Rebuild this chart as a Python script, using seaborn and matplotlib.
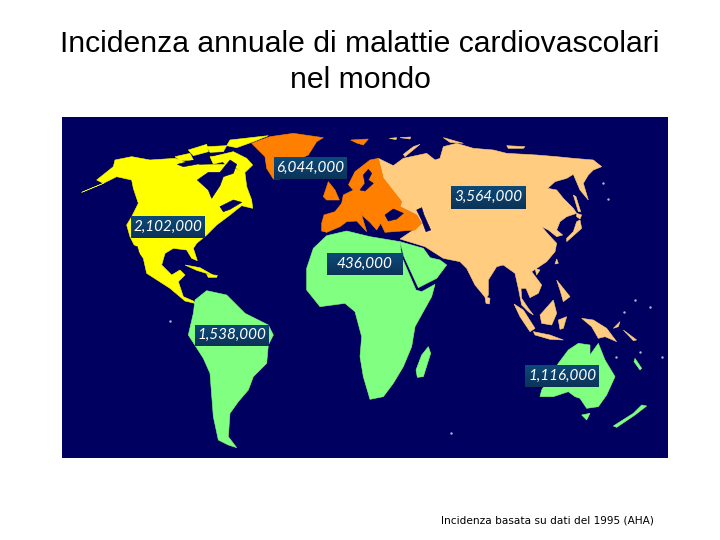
import numpy as np
import pandas as pd
import matplotlib
matplotlib.use("Agg")
import matplotlib.pyplot as plt
from matplotlib.patches import Polygon, Rectangle
import seaborn as sns

# ---- chart values -------------------------------------------------------
TITLE = "Incidenza annuale di malattie cardiovascolari\nnel mondo"
NOTE = "Incidenza basata su dati del 1995 (AHA)"
regions = ["America del Nord", "Europa", "Asia", "Africa e Medio Oriente", "America del Sud", "Oceania"]
cases = [2102000, 6044000, 3564000, 436000, 1538000, 1116000]
label_left = [131, 274, 451, 327, 195, 525]
label_right = [205, 347, 526, 403, 269, 599]
label_top = [216, 157, 186, 253, 325, 365]
label_bottom = [238, 179, 209, 275, 346, 387]

SEA = "#000060"
MAP_BOX = (62, 117, 668, 458)

# Shapes, in 3x-zoom units; top-frame origin (60,115)
north_america = [(65,232),(130,205),(110,195),(160,155),(165,135),(215,125),(270,135),(345,130),(385,145),(420,150),(500,148),(555,175),(560,215),(575,255),(578,280),(545,272),(510,300),(470,330),(440,360),(410,385),(400,400),(412,437),(395,430),(380,405),(340,400),(315,415),(305,450),(335,480),(360,465),(375,480),(355,500),(370,545),(400,558),(405,565),(375,558),(330,520),(260,475),(250,430),(225,395),(210,365),(200,330),(215,305),(235,265),(220,220),(215,195),(170,185),(130,205)]
na_water = [[(412,195),(445,172),(480,172),(510,135),(530,148),(520,175),(490,185),(480,212),(455,250),(445,225)],
            [(222,392),(232,395),(248,452),(238,445)],
            [(480,275),(520,255),(545,262),(510,283),(490,290)],
            [(352,148),(400,136),(410,148),(370,155)]]
na_islands = [[(510,75),(625,62),(580,80),(530,98),(500,92)],[(470,122),(520,110),(560,130),(578,150),(550,177),(530,160),(495,147)],
              [(385,105),(440,88),(445,110),(400,122)],[(345,125),(390,115),(400,135),(360,137)],[(450,125),(490,120),(490,140),(460,147)],
              [(440,95),(500,92),(490,110),(450,112)],
              [(375,450),(420,458),(462,482),(410,466)],[(440,478),(472,481),(470,487),(445,487)]]
greenland = [(575,85),(630,65),(700,55),(790,68),(770,80),(745,120),(700,140),(660,192),(640,192),(620,160),(615,125),(590,100)]
svalbard = [(872,75),(925,72),(910,90),(890,84)]
uk = [[(790,245),(805,200),(825,225),(838,255),(800,255)]]
europe = [(785,325),(792,300),(825,290),(845,265),(850,240),(880,225),(865,210),(885,170),(930,135),(955,130),(970,190),(1025,260),(1020,275),(1070,300),(1085,325),(1065,345),(975,352),(962,325),(950,345),(930,322),(905,300),(920,350),(890,318),(860,320),(840,335),(800,352),(785,348)]
eu_water = [[(975,300),(1000,282),(1030,295),(1010,312),(985,318)],
            [(900,225),(915,205),(910,180),(925,163),(935,175),(925,195),(940,205),(915,228)],
            [(855,228),(875,225),(860,205),(850,215)]]
eurasia = [(955,130),(1000,152),(1030,130),(1100,115),(1125,135),(1140,130),(1150,95),(1190,85),(1240,100),(1300,105),(1340,115),(1430,120),(1490,125),(1540,130),(1600,135),(1625,155),(1600,165),(1585,180),(1570,205),(1585,255),(1560,225),(1540,178),(1520,190),(1485,200),(1463,220),(1490,225),(1510,250),(1540,280),(1550,295),(1520,305),(1500,320),(1490,345),(1508,360),(1490,365),(1465,345),(1445,335),(1465,358),(1490,385),(1485,410),(1460,440),(1430,460),(1415,470),(1445,510),(1435,535),(1410,548),(1398,520),(1383,520),(1385,550),(1405,580),(1420,600),(1405,590),(1385,570),(1375,520),(1365,475),(1330,450),(1310,455),(1285,495),(1285,540),(1278,550),(1245,510),(1220,460),(1200,440),(1150,430),(1095,395),(1020,372),(1060,345),(1085,325),(1070,300),(1020,275),(1025,260),(970,190)]
caspian = [(1070,285),(1085,278),(1092,300),(1112,345),(1098,350),(1085,315)]
asia_islands = [[(1035,125),(1080,88),(1060,95),(1030,118)],[(1150,68),(1165,72),(1210,85),(1170,82)],[(1340,92),(1395,95),(1390,100),(1345,100)],
                [(988,70),(1010,68),(1008,74)],[(1020,68),(1052,66),(1050,72)],
                [(1520,380),(1565,340),(1560,315),(1550,320),(1540,350),(1520,370)],[(1550,295),(1565,300),(1560,312),(1550,305)],
                [(1540,240),(1548,245),(1562,290),(1555,290)],[(1490,432),(1495,445),(1485,447)],[(1425,460),(1440,465),(1430,480)]]
africa = [(740,460),(760,400),(800,362),(860,348),(930,365),(1020,380),(1025,425),(1068,525),(1085,530),(1125,508),(1115,545),(1065,635),(1055,695),(1030,755),(1000,805),(970,845),(930,853),(910,785),(900,725),(905,665),(885,590),(855,565),(780,575),(740,525)]
arabia = [(1020,380),(1090,400),(1110,428),(1140,435),(1160,450),(1130,490),(1075,518),(1032,425)]

# Bottom-frame shapes: origin (60,280)
south_america = [(405,60),(440,32),(500,45),(555,100),(625,135),(640,165),(625,195),(620,250),(580,290),(565,330),(535,365),(510,400),(505,470),(530,503),(505,495),(475,480),(460,410),(450,280),(430,235),(385,165),(400,100)]
madagascar = [(1105,200),(1112,220),(1090,290),(1072,292),(1068,270),(1085,225)]
australia = [(1440,350),(1445,330),(1495,250),(1525,210),(1555,190),(1590,195),(1590,225),(1615,190),(1635,240),(1665,290),(1640,345),(1615,380),(1580,385),(1560,355),(1545,350),(1525,335),(1480,350)]
oceania_islands = [[(1565,405),(1590,400),(1580,420)],[(1660,438),(1720,400),(1745,375),(1760,378),(1725,405),(1670,442)],
                   [(1725,235),(1745,265),(1740,270),(1722,245)]]
asia_south = [[(1362,72),(1390,90),(1425,145),(1410,155),(1380,110)],[(1420,155),(1470,165),(1510,180),(1470,178),(1425,165)],
              [(1440,105),(1480,60),(1490,100),(1475,135),(1445,130)],[(1495,120),(1520,110),(1510,145),(1500,148)],
              [(1565,115),(1600,120),(1640,145),(1670,185),(1635,170),(1615,175),(1595,140)],[(1490,0),(1530,50),(1510,65),(1500,30)],
              [(1275,50),(1290,55),(1288,72),(1278,70)],[(1660,145),(1680,125),(1675,140)],[(1690,150),(1730,180),(1720,182)]]
speck_x = [170, 451, 603, 608, 624, 635, 650, 662, 616, 640]
speck_y = [321, 433, 183, 199, 312, 300, 307, 357, 357, 352]


def top(p):
    return [(60 + x / 3, 115 + y / 3) for x, y in p]


def bottom(p):
    return [(60 + x / 3, 280 + y / 3) for x, y in p]


sns.set_theme(style="white")
fig = plt.figure(figsize=(7.2, 5.4), dpi=100, facecolor="white")
ax = fig.add_axes([0, 0, 1, 1])
ax.set_xlim(0, 720)
ax.set_ylim(540, 0)
ax.axis("off")

x0, y0, x1, y1 = MAP_BOX
ax.add_patch(Rectangle((x0, y0), x1 - x0, y1 - y0, fc=SEA, ec="none", zorder=0))


def fill(points, color, z=2):
    ax.add_patch(Polygon(points, closed=True, fc=color, ec=color, lw=0.4, zorder=z))


YEL, ORA, TAN, GRN = "#ffff00", "#ff8000", "#ffcc80", "#80ff80"
fill(top(north_america), YEL)
for s in na_islands:
    fill(top(s), YEL)
for s in na_water:
    fill(top(s), SEA, 3)
fill(top(eurasia), TAN)
for s in asia_islands:
    fill(top(s), TAN)
fill(top(caspian), SEA, 3)
fill(top(greenland), ORA)
fill(top(svalbard), ORA)
fill(top(europe), ORA, 2.5)
for s in uk:
    fill(top(s), ORA)
for s in eu_water:
    fill(top(s), SEA, 3)
fill(top(africa), GRN)
fill(top(arabia), GRN)
fill(bottom(south_america), GRN)
fill(bottom(madagascar), GRN)
fill(bottom(australia), GRN)
for s in oceania_islands:
    fill(bottom(s), GRN)
for s in asia_south:
    fill(bottom(s), TAN)

sns.scatterplot(x=speck_x, y=speck_y, s=3, color="#b0b8e0", linewidth=0, ax=ax, zorder=3, legend=False)

# value plates
df = pd.DataFrame({"region": regions, "cases": cases, "l": label_left, "r": label_right,
                   "t": label_top, "b": label_bottom})
grad = np.linspace(0, 1, 32).reshape(-1, 1)
cmap = matplotlib.colors.LinearSegmentedColormap.from_list("plate", ["#0d4a78", "#0c3358"])
for row in df.itertuples():
    ax.imshow(grad, extent=(row.l, row.r, row.b, row.t), cmap=cmap, aspect="auto", zorder=4)
    ax.text((row.l + row.r) / 2, (row.t + row.b) / 2 - 0.5, f"{row.cases:,}", color="white",
            family="Lato", style="italic", fontsize=11, ha="center", va="center", zorder=5)
ax.set_xlim(0, 720)
ax.set_ylim(540, 0)

ax.text(360, 62, TITLE, family="Liberation Sans", fontsize=21.7, color="black",
        ha="center", va="center", linespacing=1.32)
ax.text(547, 520.5, NOTE, family="DejaVu Sans", fontsize=7.6, color="black", ha="center", va="center")

fig.savefig("out.png", dpi=100)
